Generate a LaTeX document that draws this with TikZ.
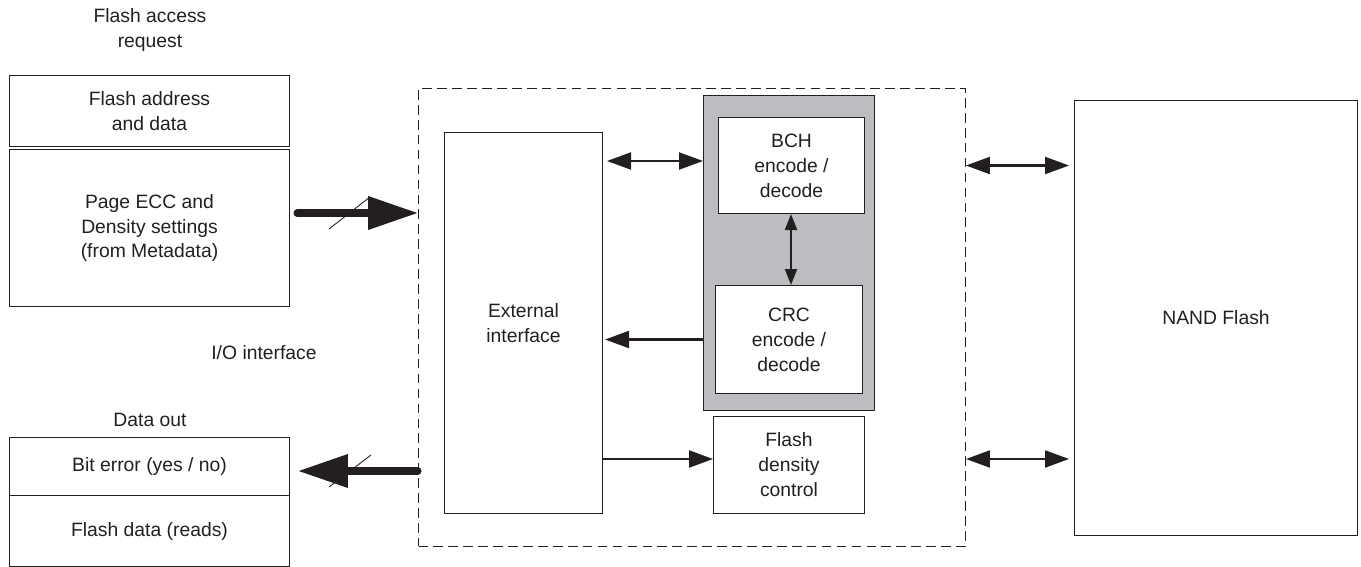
\documentclass[tikz,border=0pt]{standalone}
\usepackage{fontspec}
\setmainfont{Liberation Sans}
\usepackage{tikz}
\usetikzlibrary{arrows.meta, positioning, calc}
\definecolor{linegray}{RGB}{35,31,32}
\definecolor{codecgray}{RGB}{188,189,192}

\begin{document}
\begin{tikzpicture}[
    x=0.02cm, y=-0.02cm,
    every node/.style={font=\fontsize{11}{14.2}\selectfont, text=linegray},
    block/.style={rectangle, draw=linegray, line width=0.6pt, anchor=north west, inner sep=0pt, align=center},
    arrow/.style={-{Triangle[length=0.48cm, width=0.34cm]}, line width=1.2pt, draw=linegray},
    dblarrow/.style={{Triangle[length=0.48cm, width=0.34cm]}-{Triangle[length=0.48cm, width=0.34cm]}, line width=1.2pt, draw=linegray},
    bigarrow/.style={-{Triangle[length=1cm, width=0.64cm]}, line width=4pt, line cap=round, draw=linegray},
    slash/.style={line width=0.5pt, draw=linegray}
]
\useasboundingbox (0,0) rectangle (1361,567);

% host side
\node (req) at (150,30) [align=center] {Flash access\\request};
\node[block, minimum width=5.6cm, minimum height=1.42cm] (addr) at (9,75) {Flash address\\and data};
\node[block, minimum width=5.6cm, minimum height=3.14cm] (ecc) at (9,149) {Page ECC and\\Density settings\\(from Metadata)};

\node (io) at (264,353) {I/O interface};

\node (dout) at (150,420) {Data out};
\node[block, minimum width=5.6cm, minimum height=1.16cm] (biterr) at (9,437) {Bit error (yes / no)};
\node[block, minimum width=5.6cm, minimum height=1.42cm] (fdata) at (9,495) {Flash data (reads)};

% controller
\node[block, dashed, dash pattern=on 5.5pt off 3pt, minimum width=10.94cm, minimum height=9.16cm] (ctrl) at (418,88) {};
\node[block, minimum width=3.16cm, minimum height=7.62cm] (ext) at (444,132) {External\\interface};
\node[block, fill=codecgray, minimum width=3.42cm, minimum height=6.3cm] (codec) at (703,95) {};
\node[block, fill=white, minimum width=2.92cm, minimum height=1.92cm] (bch) at (718,117) {BCH\\encode /\\decode};
\node[block, fill=white, minimum width=2.94cm, minimum height=2.16cm] (crc) at (715,285) {CRC\\encode /\\decode};
\node[block, minimum width=3.02cm, minimum height=1.94cm] (dens) at (713,416) {Flash\\density\\control};

% flash
\node[block, minimum width=5.66cm, minimum height=8.7cm] (nand) at (1074,100) {NAND Flash};

\coordinate (inlvl) at (0,213);
\coordinate (outlvl) at (0,471);
\coordinate (bchlvl) at (0,161);
\coordinate (dnslvl) at (0,459);

% connectors
\draw[bigarrow] ([xshift=4]ecc.east |- inlvl) -- (ctrl.west |- inlvl);
\draw[slash] (329,229) -- (370,197);
\draw[bigarrow, shorten >=0.16cm] (ctrl.west |- outlvl) -- (biterr.east |- outlvl);
\draw[slash] (329,487) -- (371,455);

\draw[dblarrow, shorten <=0.08cm] (ext.east |- bchlvl) -- (codec.west |- bchlvl);
\draw[{Triangle[length=0.32cm, width=0.24cm]}-{Triangle[length=0.32cm, width=0.24cm]}, line width=1.2pt, draw=linegray] (bch.south -| 791,0) -- (crc.north -| 791,0);
\draw[arrow, shorten >=0.04cm] (codec.west |- crc) -- (ext.east |- crc);
\draw[arrow] (ext.east |- dnslvl) -- (dens.west |- dnslvl);

\draw[dblarrow, shorten >=0.1cm] (ctrl.east |- bch) -- (nand.west |- bch);
\draw[dblarrow, shorten >=0.1cm] (ctrl.east |- dnslvl) -- (nand.west |- dnslvl);

\end{tikzpicture}
\end{document}
